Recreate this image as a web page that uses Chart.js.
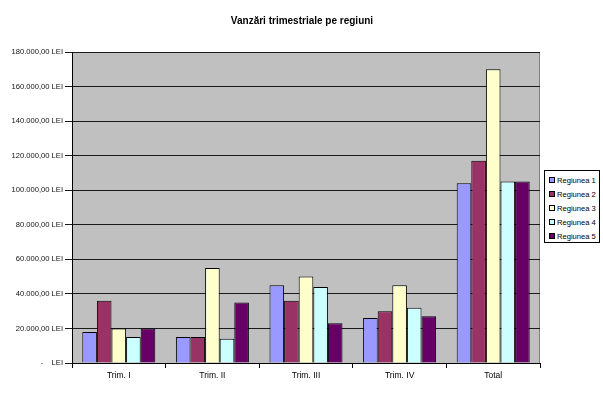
<!DOCTYPE html>
<html>
<head>
<meta charset="utf-8">
<script src="https://cdn.jsdelivr.net/npm/chart.js@4.4.1/dist/chart.umd.min.js"></script>
<style>
  html, body { margin: 0; padding: 0; background: #fff; }
  #wrap { position: relative; width: 603px; height: 395px; }
  #title { position: absolute; left: 0; width: 604px; top: 15px; text-align: center;
    font: bold 10px "Liberation Sans", Arial, sans-serif; color: #000; }
  #legend { position: absolute; left: 544px; top: 170px; width: 56px; height: 73px;
    border: 1px solid #000; background: #fff; box-sizing: border-box; padding-top: 3px;
    font: 7.6px "Liberation Sans", Arial, sans-serif; color: #000; }
  .item { height: 14px; line-height: 14px; white-space: nowrap; padding-left: 4px; }
  .sw { display: inline-block; width: 4px; height: 4px; border: 1px solid #000; margin-right: 2px; vertical-align: 0px; }
</style>
</head>
<body>
<div id="wrap">
  <canvas id="chart" width="603" height="395"></canvas>
  <div id="title">Vanzări trimestriale pe regiuni</div>
  <div id="legend"></div>
</div>
<script>
const categories = ["Trim. I", "Trim. II", "Trim. III", "Trim. IV", "Total"];
const seriesNames = ["Regiunea 1", "Regiunea 2", "Regiunea 3", "Regiunea 4", "Regiunea 5"];
const regiunea1 = [18000, 15000, 45000, 26000, 104000];
const regiunea2 = [36000, 15000, 36000, 30000, 117000];
const regiunea3 = [20000, 55000, 50000, 45000, 170000];
const regiunea4 = [15000, 14000, 44000, 32000, 105000];
const regiunea5 = [20000, 35000, 23000, 27000, 105000];
const colors = ["#9999ff", "#993366", "#ffffcc", "#ccffff", "#660066"];

const series = [regiunea1, regiunea2, regiunea3, regiunea4, regiunea5];

function formatLei(v) {
  if (v === 0) return "-    LEI";
  const whole = Math.round(v).toString().replace(/\B(?=(\d{3})+(?!\d))/g, ".");
  return whole + ",00 LEI";
}

// gray plot background like the old Excel chart
const plotBg = {
  id: "plotBg",
  beforeDraw(chart) {
    const { ctx, chartArea: a } = chart;
    ctx.save();
    ctx.fillStyle = "#c0c0c0";
    ctx.fillRect(a.left, a.top, a.right - a.left, a.bottom - a.top);
    ctx.strokeStyle = "#808080";
    ctx.lineWidth = 1;
    ctx.strokeRect(a.left + 0.5, a.top + 0.5, a.right - a.left - 1, a.bottom - a.top);
    ctx.restore();
  },
};

new Chart(document.getElementById("chart"), {
  type: "bar",
  data: {
    labels: categories,
    datasets: series.map((data, i) => ({
      label: seriesNames[i],
      data,
      backgroundColor: colors[i],
      borderColor: "#000",
      borderWidth: 1,
      categoryPercentage: 0.78,
      barPercentage: 1,
    })),
  },
  options: {
    responsive: false,
    animation: false,
    layout: { padding: { top: 52, right: 63, left: 0, bottom: 0 } },
    plugins: { legend: { display: false }, title: { display: false }, tooltip: { enabled: false } },
    scales: {
      x: {
        grid: { display: true, drawOnChartArea: false, offset: true, color: "#000", tickLength: 5 },
        border: { color: "#000" },
        ticks: { color: "#000", font: { family: "Liberation Sans", size: 8.5 }, padding: 3 },
        afterFit(s) { s.height = 32; },
      },
      y: {
        min: 0,
        max: 180000,
        grid: { color: "#1a1a1a", tickLength: 7 },
        border: { color: "#000" },
        ticks: {
          stepSize: 20000,
          color: "#111",
          font: { family: "Liberation Sans", size: 7.6 },
          padding: 2,
          callback: (v) => formatLei(v),
        },
        afterFit(s) { s.width = 72; },
      },
    },
  },
  plugins: [plotBg],
});

document.getElementById("legend").innerHTML = seriesNames
  .map((n, i) => `<div class="item"><span class="sw" style="background:${colors[i]}"></span>${n}</div>`)
  .join("");
</script>
</body>
</html>
